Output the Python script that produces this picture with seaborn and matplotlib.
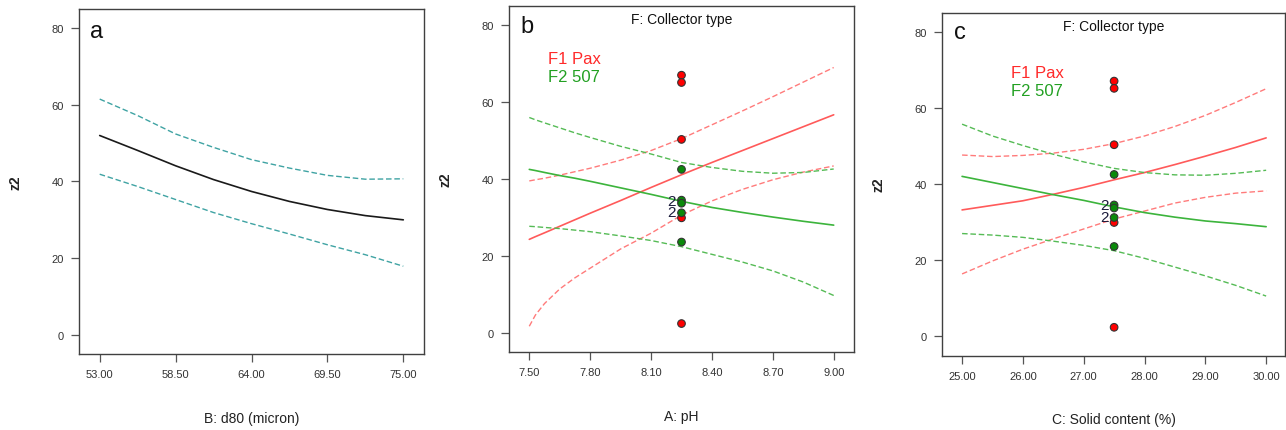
import numpy as np
import pandas as pd
import matplotlib
matplotlib.use("Agg")
import matplotlib.pyplot as plt
import seaborn as sns

# ---------------- data ----------------
# (a) one-factor plot: z2 against d80
d80 = [53.0, 55.75, 58.5, 61.25, 64.0, 66.75, 69.5, 72.25, 75.0]
a_pred = [52.0, 48.1, 44.1, 40.5, 37.4, 34.8, 32.7, 31.1, 30.0]
a_upper = [61.5, 57.2, 52.4, 48.9, 45.7, 43.5, 41.6, 40.6, 40.7]
a_lower = [41.9, 38.7, 35.3, 31.9, 29.0, 26.3, 23.5, 20.9, 17.9]

# (b) interaction with pH, per collector type
ph = [7.50, 7.53, 7.575, 7.65, 7.725, 7.80, 7.95, 8.10, 8.25, 8.40, 8.55, 8.70, 8.85, 9.00]
b_pax_pred = [24.3, 25.0, 26.0, 27.7, 29.4, 31.1, 34.4, 37.8, 41.1, 44.3, 47.4, 50.5, 53.6, 56.7]
b_pax_upper = [39.5, 39.8, 40.2, 41.0, 41.9, 42.8, 44.9, 47.4, 50.5, 54.1, 57.7, 61.4, 65.2, 69.0]
b_pax_lower = [1.7, 4.6, 7.6, 11.4, 14.3, 16.8, 21.8, 25.9, 30.6, 34.3, 37.3, 39.8, 41.8, 43.4]
b_507_pred = [42.5, 42.2, 41.7, 40.9, 40.2, 39.4, 37.7, 36.0, 34.2, 32.6, 31.3, 30.1, 29.0, 28.0]
b_507_upper = [56.0, 55.4, 54.6, 53.3, 52.0, 50.8, 48.5, 46.5, 44.3, 43.0, 42.0, 41.5, 41.7, 42.6]
b_507_lower = [27.7, 27.6, 27.4, 27.1, 26.7, 26.3, 25.2, 24.0, 22.4, 20.4, 18.4, 16.1, 13.2, 9.7]

# (c) interaction with solid content, per collector type
solid = [25.0, 25.5, 26.0, 26.5, 27.0, 27.5, 28.0, 28.5, 29.0, 29.5, 30.0]
c_pax_pred = [33.2, 34.4, 35.6, 37.3, 39.1, 41.1, 43.0, 45.1, 47.3, 49.6, 52.1]
c_pax_upper = [47.6, 47.2, 47.5, 48.1, 49.1, 50.6, 52.6, 55.1, 58.0, 61.4, 65.0]
c_pax_lower = [16.4, 19.8, 22.9, 25.6, 28.2, 30.8, 32.9, 35.0, 36.5, 37.6, 38.2]
c_507_pred = [42.0, 40.4, 38.8, 37.2, 35.7, 34.0, 32.5, 31.3, 30.3, 29.6, 28.8]
c_507_upper = [55.7, 52.6, 50.1, 47.8, 45.8, 44.1, 43.0, 42.4, 42.3, 42.8, 43.6]
c_507_lower = [27.0, 26.6, 26.0, 25.0, 23.9, 22.5, 20.5, 18.2, 15.9, 13.4, 10.6]

# observed runs at the centre point
obs_pax = [67.0, 65.1, 50.3, 29.9, 2.4]
obs_507 = [42.5, 34.5, 33.7, 31.2, 23.6]
dup_507 = [34.4, 31.3]          # runs replicated twice ("2" markers)
center_ph = 8.25
center_solid = 27.5

collector_labels = ["F1 Pax", "F2 507"]

# ---------------- style ----------------
sns.set_style("ticks")
plt.rcParams["font.family"] = ["Liberation Sans", "DejaVu Sans"]

RED_LINE = "#ff5a5a"
RED_DASH = "#ff7b7b"
GREEN_LINE = "#3cb43c"
GREEN_DASH = "#55bb55"
TEAL = "#3fa3a3"
SPINE = "#404040"
DASHES = (4, 2)

W, H = 1286, 431
fig = plt.figure(figsize=(W / 100, H / 100), dpi=100)


def px_axes(left, top, right, bottom):
    return fig.add_axes([left / W, 1 - bottom / H, (right - left) / W, (bottom - top) / H])


ax_a = px_axes(79, 10, 424, 355)
ax_b = px_axes(509, 7, 854, 353)
ax_c = px_axes(942, 13.5, 1285, 356.5)


def style_axes(ax, xticks, xlim, xlabel):
    ax.set_xlim(*xlim)
    ax.set_ylim(-5, 85)
    ax.set_xticks(xticks)
    ax.set_xticklabels([f"{t:.2f}" for t in xticks])
    ax.set_yticks([0, 20, 40, 60, 80])
    ax.set_yticklabels(["0", "20", "40", "60", "80"])
    for s in ax.spines.values():
        s.set_visible(True)
        s.set_color(SPINE)
        s.set_linewidth(1.0)
    ax.tick_params(axis="both", direction="out", length=6, width=0.9,
                   color="#555555", labelsize=8, labelcolor="#333333", pad=5)
    ax.set_xlabel(xlabel, fontsize=10, color="#222222", va="center")
    ax.set_ylabel("z2", fontsize=10, color="#222222", fontweight="bold")
    ax.xaxis.set_label_coords(0.5, -0.186)
    ax.yaxis.set_label_coords(-0.165, 0.5)


def band_lines(ax, x, pred, upper, lower, solid_c, dash_c):
    df = pd.DataFrame({"x": x, "pred": pred, "upper": upper, "lower": lower})
    sns.lineplot(data=df, x="x", y="pred", ax=ax, color=solid_c, lw=1.2)
    sns.lineplot(data=df, x="x", y="upper", ax=ax, color=dash_c, lw=1.0, dashes=False,
                 linestyle=(0, DASHES))
    sns.lineplot(data=df, x="x", y="lower", ax=ax, color=dash_c, lw=1.0, dashes=False,
                 linestyle=(0, DASHES))


# ---- panel a ----
band_lines(ax_a, d80, a_pred, a_upper, a_lower, "#1a1a1a", TEAL)
style_axes(ax_a, [53.0, 58.5, 64.0, 69.5, 75.0], (51.5, 76.5), "B: d80 (micron)")
ax_a.text(0.052, 0.936, "a", transform=ax_a.transAxes, fontsize=17,
          ha="center", va="center", color="#111111")


def factor_panel(ax, x, xc, pax, s507, xticks, xlim, xlabel, letter, legend_pos):
    band_lines(ax, x, *pax, RED_LINE, RED_DASH)
    band_lines(ax, x, *s507, GREEN_LINE, GREEN_DASH)
    pts = pd.DataFrame({
        "x": [xc] * (len(obs_pax) + len(obs_507)),
        "y": obs_pax + obs_507,
        "type": [collector_labels[0]] * len(obs_pax) + [collector_labels[1]] * len(obs_507),
    })
    sns.scatterplot(data=pts, x="x", y="y", hue="type",
                    palette={collector_labels[0]: "#ff0000", collector_labels[1]: "#0a8a0a"},
                    s=30, edgecolor="#333333", linewidth=0.8, ax=ax, legend=False, zorder=5)
    for v in dup_507:
        ax.annotate("2", (xc, v), xytext=(-7, 0), textcoords="offset points",
                    fontsize=11, color="#1c1c3c", ha="center", va="center", zorder=6)
    style_axes(ax, xticks, xlim, xlabel)
    ax.text(0.5, 0.962, "F: Collector type", transform=ax.transAxes, fontsize=10,
            ha="center", va="center", color="#111111")
    ax.text(0.053, 0.942, letter, transform=ax.transAxes, fontsize=17,
            ha="center", va="center", color="#111111")
    lx, ly = legend_pos
    ax.text(lx, ly, collector_labels[0], transform=ax.transAxes, fontsize=12,
            color="#ff2a2a", ha="left", va="center")
    ax.text(lx, ly - 0.05, collector_labels[1], transform=ax.transAxes, fontsize=12,
            color="#22a022", ha="left", va="center")


factor_panel(ax_b, ph, center_ph,
             (b_pax_pred, b_pax_upper, b_pax_lower),
             (b_507_pred, b_507_upper, b_507_lower),
             [7.5, 7.8, 8.1, 8.4, 8.7, 9.0], (7.4, 9.1), "A: pH", "b", (0.112, 0.847))

factor_panel(ax_c, solid, center_solid,
             (c_pax_pred, c_pax_upper, c_pax_lower),
             (c_507_pred, c_507_upper, c_507_lower),
             [25.0, 26.0, 27.0, 28.0, 29.0, 30.0], (24.67, 30.31),
             "C: Solid content (%)", "c", (0.2, 0.824))

fig.savefig("out.png", dpi=100, facecolor="white")
